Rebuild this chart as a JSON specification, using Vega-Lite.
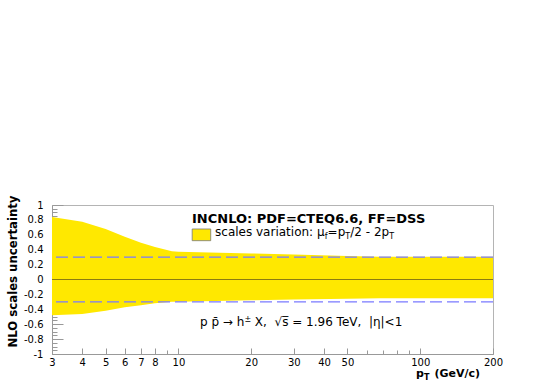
{
  "$schema": "https://vega.github.io/schema/vega-lite/v6.json",
  "width": 441,
  "height": 149,
  "autosize": "none",
  "padding": {"left": 52, "top": 205, "right": 55, "bottom": 28},
  "background": "white",
  "config": {
    "view": {"stroke": "#b4b4b4", "strokeWidth": 1},
    "axis": {"grid": false, "labelFont": "DejaVu Sans", "labelFontSize": 10, "labelColor": "#000", "domainColor": "#999", "tickColor": "#999"}
  },
  "datasets": {
    "band": [
      {"pT": 3, "hi": 0.839, "lo": -0.48},
      {"pT": 4, "hi": 0.776, "lo": -0.463},
      {"pT": 5, "hi": 0.678, "lo": -0.418},
      {"pT": 6, "hi": 0.575, "lo": -0.373},
      {"pT": 7, "hi": 0.494, "lo": -0.345},
      {"pT": 8, "hi": 0.436, "lo": -0.32},
      {"pT": 9.4, "hi": 0.378, "lo": -0.3},
      {"pT": 10, "hi": 0.373, "lo": -0.298},
      {"pT": 20, "hi": 0.35, "lo": -0.28},
      {"pT": 30, "hi": 0.335, "lo": -0.27},
      {"pT": 50, "hi": 0.315, "lo": -0.26},
      {"pT": 68, "hi": 0.306, "lo": -0.252},
      {"pT": 100, "hi": 0.306, "lo": -0.25},
      {"pT": 200, "hi": 0.306, "lo": -0.25}
    ],
    "refs": [{"v": 0.3}, {"v": -0.3}],
    "zero": [{"v": 0}],
    "legend": [{"a": 11.4, "b": 13.6, "top": 0.678, "bot": 0.521}],
    "notes": [
      {"t": "INCNLO: PDF=CTEQ6.6, FF=DSS", "pT": 11.38, "y": 0.754, "kind": "head"},
      {"t": "scales variation: μ", "pT": 14.17, "y": 0.584, "kind": "body"},
      {"t": "f", "pT": 40.31, "y": 0.544, "kind": "sub"},
      {"t": "=p", "pT": 41.4, "y": 0.584, "kind": "body"},
      {"t": "T", "pT": 48.98, "y": 0.544, "kind": "sub"},
      {"t": "/2 - 2p", "pT": 51.38, "y": 0.584, "kind": "body"},
      {"t": "T", "pT": 74.4, "y": 0.544, "kind": "sub"},
      {"t": "p p̄ → h", "pT": 12.28, "y": -0.624, "kind": "body"},
      {"t": "±", "pT": 18.74, "y": -0.57, "kind": "sub"},
      {"t": "X,\u00a0 √s̅ = 1.96 TeV,\u00a0 |η|<1", "pT": 20.7, "y": -0.624, "kind": "body"},
      {"t": "p", "pT": 96.0, "y": -1.31, "kind": "xt"},
      {"t": "T", "pT": 103.6, "y": -1.35, "kind": "xtsub"},
      {"t": "(GeV/c)", "pT": 114.5, "y": -1.31, "kind": "xt"}
    ]
  },
  "resolve": {"axis": {"x": "independent", "y": "independent"}},
  "layer": [
    {
      "data": {"name": "band"},
      "mark": {"type": "area", "color": "#ffe800", "stroke": null},
      "encoding": {
        "x": {"field": "pT", "type": "quantitative",
              "scale": {"type": "log", "domain": [3, 200], "nice": false},
              "axis": {"orient": "bottom", "title": null, "values": [3, 4, 5, 6, 7, 8, 10, 20, 30, 40, 50, 100, 200], "format": "~g", "tickSize": -6, "labelPadding": 9, "labelFlush": false, "labelOverlap": false}},
        "y": {"field": "hi", "type": "quantitative",
              "scale": {"domain": [-1, 1], "nice": false, "zero": false},
              "axis": {"orient": "left", "values": [-1, -0.8, -0.6, -0.4, -0.2, 0, 0.2, 0.4, 0.6, 0.8, 1], "labelExpr": "replace(format(datum.value, '~g'), '−', '-')", "tickSize": -11, "labelPadding": 20, "labelFlush": false, "labelOverlap": false,
                       "title": "NLO scales uncertainty", "titleFont": "Liberation Sans Narrow, DejaVu Sans Condensed, Liberation Sans", "titleFontSize": 13, "titleFontWeight": "bold", "titleColor": "#000", "titleAngle": -90, "titleX": -40, "titleY": 66, "titleAlign": "center", "titleBaseline": "middle"}},
        "y2": {"field": "lo"}
      }
    },
    {
      "data": {"name": "band"},
      "mark": {"type": "line", "opacity": 0},
      "encoding": {
        "x": {"field": "pT", "type": "quantitative",
              "axis": {"orient": "bottom", "title": null, "values": [9, 60, 70, 80, 90], "labels": false, "domain": false, "tickSize": -4}},
        "y": {"field": "hi", "type": "quantitative",
              "axis": {"orient": "left", "title": null, "values": [-0.95, -0.9, -0.85, -0.75, -0.7, -0.65, -0.55, -0.5, -0.45, -0.35, -0.3, -0.25, -0.15, -0.1, -0.05, 0.05, 0.1, 0.15, 0.25, 0.3, 0.35, 0.45, 0.5, 0.55, 0.65, 0.7, 0.75, 0.85, 0.9, 0.95], "labels": false, "domain": false, "tickSize": -5}}
      }
    },
    {
      "data": {"name": "zero"},
      "mark": {"type": "rule", "color": "#8c7c10", "strokeWidth": 1.2},
      "encoding": {"y": {"field": "v", "type": "quantitative", "axis": null}}
    },
    {
      "data": {"name": "refs"},
      "mark": {"type": "rule", "stroke": "#7a7aff", "strokeWidth": 1.2, "strokeDash": [12, 5]},
      "encoding": {"y": {"field": "v", "type": "quantitative", "axis": null}}
    },
    {
      "data": {"name": "legend"},
      "mark": {"type": "rect", "color": "#ffe800", "stroke": "#777", "strokeWidth": 0.8},
      "encoding": {
        "x": {"field": "a", "type": "quantitative", "axis": null},
        "x2": {"field": "b"},
        "y": {"field": "top", "type": "quantitative", "axis": null},
        "y2": {"field": "bot"}
      }
    },
    {
      "data": {"name": "notes"},
      "transform": [{"filter": "datum.kind === 'head'"}],
      "mark": {"type": "text", "align": "left", "baseline": "alphabetic", "font": "DejaVu Sans", "fontWeight": "bold", "fontSize": 13, "color": "#000"},
      "encoding": {
        "x": {"field": "pT", "type": "quantitative", "axis": null},
        "y": {"field": "y", "type": "quantitative", "axis": null},
        "text": {"field": "t"}
      }
    },
    {
      "data": {"name": "notes"},
      "transform": [{"filter": "datum.kind === 'body'"}],
      "mark": {"type": "text", "align": "left", "baseline": "alphabetic", "font": "DejaVu Sans", "fontSize": 12, "color": "#000"},
      "encoding": {
        "x": {"field": "pT", "type": "quantitative", "axis": null},
        "y": {"field": "y", "type": "quantitative", "axis": null},
        "text": {"field": "t"}
      }
    },
    {
      "data": {"name": "notes"},
      "transform": [{"filter": "datum.kind === 'sub'"}],
      "mark": {"type": "text", "align": "left", "baseline": "alphabetic", "font": "DejaVu Sans", "fontSize": 8, "color": "#000"},
      "encoding": {
        "x": {"field": "pT", "type": "quantitative", "axis": null},
        "y": {"field": "y", "type": "quantitative", "axis": null},
        "text": {"field": "t"}
      }
    },
    {
      "data": {"name": "notes"},
      "transform": [{"filter": "datum.kind === 'xt'"}],
      "mark": {"type": "text", "align": "left", "baseline": "alphabetic", "font": "DejaVu Sans", "fontWeight": "bold", "fontSize": 11, "color": "#000"},
      "encoding": {
        "x": {"field": "pT", "type": "quantitative", "axis": null},
        "y": {"field": "y", "type": "quantitative", "axis": null},
        "text": {"field": "t"}
      }
    },
    {
      "data": {"name": "notes"},
      "transform": [{"filter": "datum.kind === 'xtsub'"}],
      "mark": {"type": "text", "align": "left", "baseline": "alphabetic", "font": "DejaVu Sans", "fontWeight": "bold", "fontSize": 8, "color": "#000"},
      "encoding": {
        "x": {"field": "pT", "type": "quantitative", "axis": null},
        "y": {"field": "y", "type": "quantitative", "axis": null},
        "text": {"field": "t"}
      }
    }
  ]
}
